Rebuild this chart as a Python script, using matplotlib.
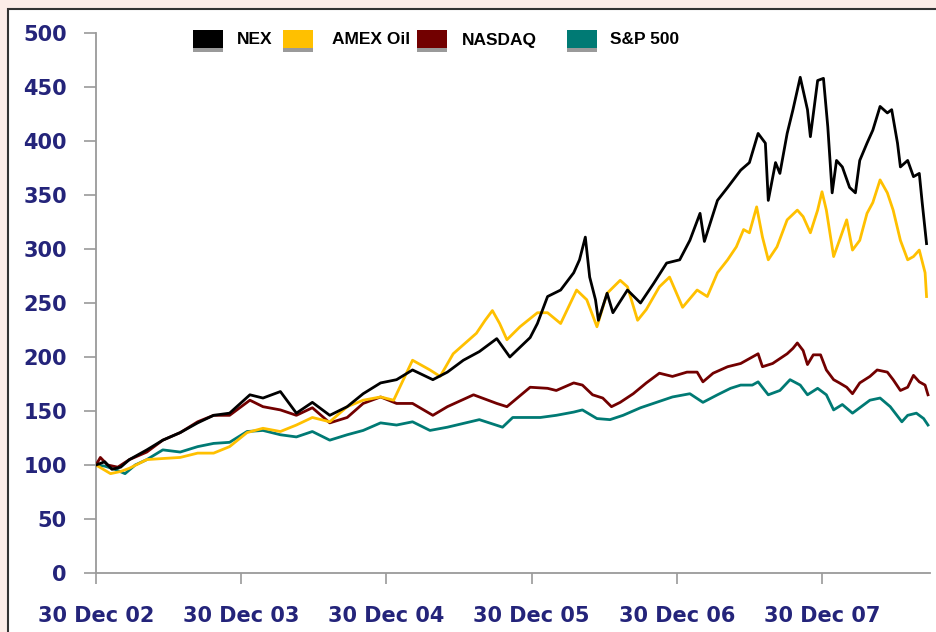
import matplotlib
matplotlib.use("Agg")
import matplotlib.pyplot as plt
from matplotlib.patches import Rectangle

# ---- data (x = years since 30 Dec 2002, value index = 100 at start) ----
nex_t = [0.00, 0.06, 0.11, 0.17, 0.23, 0.35, 0.46, 0.58, 0.70, 0.81, 0.92, 1.06, 1.15, 1.27, 1.38,
         1.49, 1.61, 1.73, 1.84, 1.96, 2.07, 2.18, 2.32, 2.42, 2.53, 2.64, 2.76, 2.85, 2.99, 3.04,
         3.11, 3.20, 3.29, 3.33, 3.37, 3.40, 3.44, 3.46, 3.52, 3.56, 3.66, 3.75, 3.84, 3.93, 4.02,
         4.09, 4.16, 4.19, 4.28, 4.35, 4.44, 4.50, 4.56, 4.61, 4.63, 4.68, 4.71, 4.76, 4.80, 4.85,
         4.90, 4.92, 4.97, 5.01, 5.04, 5.07, 5.10, 5.14, 5.19, 5.23, 5.26, 5.31, 5.35, 5.40, 5.45,
         5.48, 5.52, 5.54, 5.59, 5.63, 5.67, 5.69, 5.72]
nex_v = [100, 103, 96, 98, 105, 114, 123, 130, 139, 146, 148, 165, 162, 168, 148,
         158, 146, 154, 166, 176, 179, 188, 179, 186, 197, 205, 217, 200, 218, 231,
         256, 262, 278, 290, 311, 274, 253, 234, 259, 241, 262, 250, 268, 287, 290,
         308, 333, 307, 345, 357, 373, 380, 407, 398, 345, 380, 370, 407, 429, 459,
         429, 404, 456, 458, 413, 352, 382, 376, 357, 352, 382, 398, 410, 432, 426,
         429, 398, 376, 382, 367, 370, 343, 305]

amex_t = [0.00, 0.05, 0.10, 0.17, 0.23, 0.35, 0.46, 0.58, 0.70, 0.81, 0.92, 1.04, 1.15, 1.27, 1.38,
          1.49, 1.61, 1.73, 1.84, 1.96, 2.05, 2.18, 2.30, 2.37, 2.46, 2.62, 2.68, 2.73, 2.78, 2.83,
          2.92, 3.04, 3.11, 3.20, 3.31, 3.38, 3.45, 3.52, 3.61, 3.66, 3.73, 3.79, 3.88, 3.95, 4.04,
          4.14, 4.21, 4.28, 4.35, 4.41, 4.46, 4.50, 4.55, 4.59, 4.63, 4.69, 4.76, 4.83, 4.87, 4.92,
          4.97, 5.00, 5.03, 5.08, 5.12, 5.17, 5.21, 5.26, 5.31, 5.35, 5.40, 5.45, 5.49, 5.54, 5.59,
          5.63, 5.67, 5.71, 5.72]
amex_v = [100, 96, 92, 94, 97, 105, 106, 107, 111, 111, 117, 130, 134, 131, 137,
          144, 140, 154, 160, 163, 160, 197, 188, 182, 203, 222, 234, 243, 231, 216,
          228, 241, 241, 231, 262, 253, 228, 259, 271, 265, 234, 244, 265, 274, 246,
          262, 256, 278, 290, 302, 318, 315, 339, 311, 290, 302, 327, 336, 330, 315,
          336, 353, 336, 293, 308, 327, 299, 308, 333, 343, 364, 352, 336, 308, 290,
          293, 299, 278, 256]

nasdaq_t = [0.00, 0.03, 0.08, 0.15, 0.23, 0.35, 0.46, 0.58, 0.70, 0.81, 0.92, 1.06, 1.15, 1.27, 1.38,
            1.49, 1.61, 1.73, 1.84, 1.96, 2.07, 2.18, 2.32, 2.42, 2.60, 2.76, 2.83, 2.99, 3.11, 3.17,
            3.29, 3.35, 3.42, 3.49, 3.55, 3.61, 3.70, 3.79, 3.88, 3.97, 4.07, 4.14, 4.18, 4.25, 4.35,
            4.44, 4.52, 4.56, 4.59, 4.66, 4.76, 4.80, 4.83, 4.87, 4.90, 4.94, 4.99, 5.03, 5.08, 5.12,
            5.17, 5.21, 5.26, 5.33, 5.38, 5.45, 5.49, 5.54, 5.59, 5.63, 5.67, 5.71, 5.73]
nasdaq_v = [100, 107, 100, 98, 105, 112, 123, 130, 140, 146, 146, 160, 154, 151, 146,
            153, 139, 144, 157, 163, 157, 157, 146, 154, 165, 157, 154, 172, 171, 169,
            176, 174, 165, 162, 154, 158, 166, 176, 185, 182, 186, 186, 177, 185, 191,
            194, 200, 203, 191, 194, 203, 208, 213, 206, 193, 202, 202, 188, 179, 176,
            172, 166, 176, 182, 188, 186, 179, 169, 172, 183, 177, 174, 165]

sp500_t = [0.00, 0.06, 0.13, 0.20, 0.27, 0.35, 0.46, 0.58, 0.70, 0.81, 0.92, 1.04, 1.15, 1.27, 1.38,
           1.49, 1.61, 1.73, 1.84, 1.96, 2.07, 2.18, 2.30, 2.42, 2.64, 2.80, 2.87, 3.06, 3.17, 3.29,
           3.35, 3.45, 3.54, 3.63, 3.75, 3.86, 3.97, 4.09, 4.18, 4.28, 4.37, 4.44, 4.52, 4.56, 4.63,
           4.71, 4.78, 4.85, 4.90, 4.97, 5.03, 5.08, 5.14, 5.21, 5.26, 5.33, 5.40, 5.47, 5.55, 5.59,
           5.65, 5.70, 5.73]
sp500_v = [100, 99, 96, 92, 100, 105, 114, 112, 117, 120, 121, 131, 132, 128, 126,
           131, 123, 128, 132, 139, 137, 140, 132, 135, 142, 135, 144, 144, 146, 149,
           151, 143, 142, 146, 153, 158, 163, 166, 158, 165, 171, 174, 174, 177, 165,
           169, 179, 174, 165, 171, 165, 151, 156, 148, 153, 160, 162, 154, 140, 146,
           148, 143, 137]

series_names = ["NEX", "AMEX Oil", "NASDAQ", "S&P 500"]
series_colors = ["#000000", "#FFC000", "#720000", "#007A74"]

x_ticks = [0, 1, 2, 3, 4, 5]
x_tick_labels = ["30 Dec 02", "30 Dec 03", "30 Dec 04", "30 Dec 05", "30 Dec 06", "30 Dec 07"]
y_ticks = list(range(0, 501, 50))

# ---- figure ----
W, H = 936, 632
fig = plt.figure(figsize=(W / 100, H / 100), dpi=100)
fig.patch.set_facecolor("#FCEDE8")

# white panel with dark border on top/left
panel = Rectangle((8 / W, -0.05), 1.2, 1 - 9 / H + 0.05, transform=fig.transFigure,
                  facecolor="white", edgecolor="#333333", linewidth=1.5, zorder=0)
fig.add_artist(panel)

ax = fig.add_axes([96 / W, (H - 573) / H, (930 - 96) / W, 540 / H])
ax.set_facecolor("none")

data = [(nex_t, nex_v), (amex_t, amex_v), (nasdaq_t, nasdaq_v), (sp500_t, sp500_v)]
for i in [3, 2, 1, 0]:
    t, v = data[i]
    ax.plot(t, v, color=series_colors[i], lw=2.0, solid_joinstyle="round", zorder=3 + (3 - i))

ax.set_xlim(0, 834 / 145.2)
ax.set_ylim(0, 500)

for s in ["top", "right"]:
    ax.spines[s].set_visible(False)
for s in ["left", "bottom"]:
    ax.spines[s].set_color("#9a9a9a")
    ax.spines[s].set_linewidth(1.3)

ax.set_yticks(y_ticks)
ax.set_yticklabels([str(v) for v in y_ticks])
ax.set_xticks(x_ticks)
ax.set_xticklabels(x_tick_labels)

ax.tick_params(axis="y", direction="out", length=9, width=1.2, color="#9a9a9a", pad=12,
               labelsize=15, labelcolor="#24247A")
ax.tick_params(axis="x", direction="out", length=8, width=1.2, color="#9a9a9a", pad=16,
               labelsize=15, labelcolor="#24247A")
for lab in ax.get_yticklabels() + ax.get_xticklabels():
    lab.set_fontweight("bold")
    lab.set_family("DejaVu Sans")

# ---- legend (manual, top) ----
patch_x = [193, 283, 417, 567]
text_x = [237, 332, 462, 610]
for i in range(4):
    px = patch_x[i]
    fig.add_artist(Rectangle((px / W, 1 - 52 / H), 30 / W, 4 / H, transform=fig.transFigure,
                             facecolor="#9a9a9a", edgecolor="none", zorder=5))
    fig.add_artist(Rectangle((px / W, 1 - 48 / H), 30 / W, 18 / H, transform=fig.transFigure,
                             facecolor=series_colors[i], edgecolor="none", zorder=6))
    fig.text(text_x[i] / W, 1 - 40 / H, series_names[i], ha="left", va="center",
             fontsize=12.5, fontweight="bold", color="black",
             family=["Liberation Sans Narrow", "Liberation Sans", "DejaVu Sans"])

fig.savefig("out.png", dpi=100, facecolor=fig.get_facecolor())
